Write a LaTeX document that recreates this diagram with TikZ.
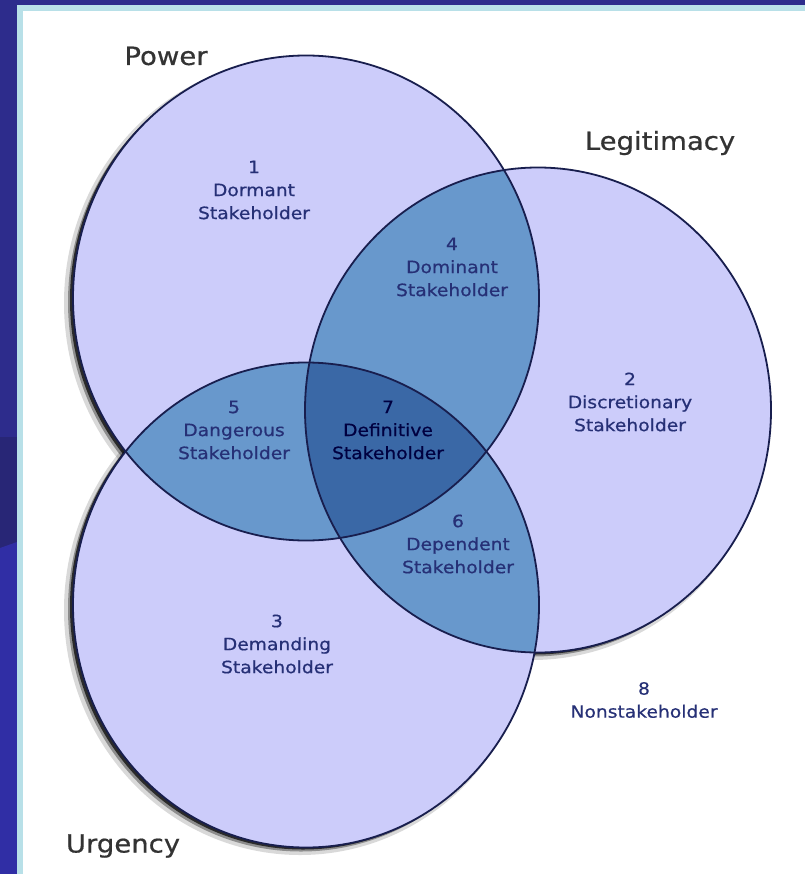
\documentclass[tikz,border=0pt]{standalone}
\usepackage{fontspec}
\newfontfamily\vennfont[FakeStretch=1.1,FakeBold=0.6]{DejaVu Sans}
\usepackage{xcolor}
\definecolor{slideblue}{RGB}{45,44,140}
\definecolor{slidedeep}{RGB}{40,38,118}
\definecolor{slidebright}{RGB}{48,46,165}
\definecolor{rimcyan}{RGB}{184,224,232}
\definecolor{lavender}{RGB}{204,204,250}
\definecolor{pairblue}{RGB}{104,152,204}
\definecolor{coreblue}{RGB}{58,104,166}
\definecolor{rimnavy}{RGB}{24,30,78}
\definecolor{labelnavy}{RGB}{38,48,118}
\tikzset{
  vennsize/.style={x radius=233pt, y radius=242.5pt},
  rim/.style={draw=rimnavy, line width=1.8pt},
  region/.style={font=\vennfont\fontsize{17}{23}\selectfont, text=labelnavy,
    align=center, inner sep=0pt},
  setname/.style={font=\vennfont\fontsize{25}{30}\selectfont, text=black!80,
    inner sep=0pt},
}

\begin{document}
\begin{tikzpicture}[x=1pt,y=-1pt]
    \useasboundingbox (0,0) rectangle (805,874);
    % slide background and white panel
    \fill[slideblue] (0,0) rectangle (805,874);
    \fill[slidedeep] (0,437) rectangle (17,548);
    \fill[slidebright] (0,548) -- (17,542) -- (17,874) -- (0,874) -- cycle;
    \fill[rimcyan] (17,5) rectangle (805,874);
    \fill[white] (23,11) rectangle (805,874);
    % the three sets
    \coordinate (P) at (306,298);
    \coordinate (L) at (538,410);
    \coordinate (U) at (306,605);
    \foreach \c in {P,L,U}{
        \fill[black,opacity=0.15] ([shift={(-6,5)}]\c) ellipse [x radius=236pt, y radius=245pt];
        \fill[black,opacity=0.35] ([shift={(-5,4)}]\c) ellipse [vennsize];
        \fill[black,opacity=0.7] ([shift={(-3,2)}]\c) ellipse [vennsize];
    }
    \foreach \c in {P,L,U}
        \fill[lavender] (\c) ellipse [vennsize];
    \begin{scope}
        \clip (P) ellipse [vennsize];
        \fill[pairblue] (L) ellipse [vennsize];
        \fill[pairblue] (U) ellipse [vennsize];
    \end{scope}
    \begin{scope}
        \clip (L) ellipse [vennsize];
        \fill[pairblue] (U) ellipse [vennsize];
    \end{scope}
    \begin{scope}
        \clip (P) ellipse [vennsize];
        \clip (L) ellipse [vennsize];
        \fill[coreblue] (U) ellipse [vennsize];
    \end{scope}
    \foreach \c in {P,L,U}
        \draw[rim] (\c) ellipse [vennsize];
    % set names
    \node[setname] (power) at (166,56) {Power};
    \node[setname] (legit) at (660,143) {Legitimacy};
    \node[setname] (urgency) at (123,846) {Urgency};
    % stakeholder classes
    \node[region] (dormant) at (254,190) {1\\Dormant\\Stakeholder};
    \node[region] (discretionary) at (630,402) {2\\Discretionary\\Stakeholder};
    \node[region] (demanding) at (277,644) {3\\Demanding\\Stakeholder};
    \node[region] (dominant) at (452,267) {4\\Dominant\\Stakeholder};
    \node[region] (dangerous) at (234,430) {5\\Dangerous\\Stakeholder};
    \node[region] (dependent) at (458,544) {6\\Dependent\\Stakeholder};
    \node[region, text=black!75!blue] (definitive) at (388,430) {7\\Definitive\\Stakeholder};
    \node[region] (nonstake) at (644,700) {8\\Nonstakeholder};
\end{tikzpicture}
\end{document}
